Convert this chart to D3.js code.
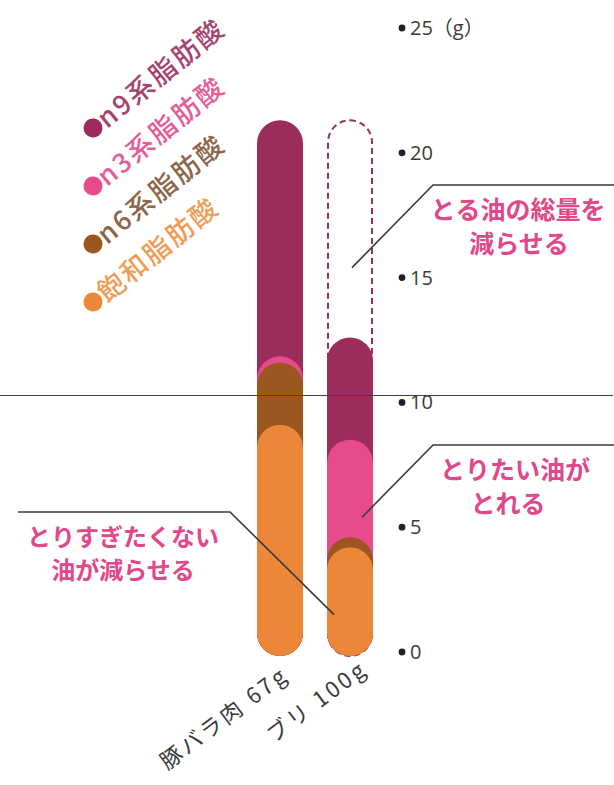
<!DOCTYPE html>
<html><head><meta charset="utf-8">
<script src="https://cdn.jsdelivr.net/npm/d3@7"></script>
<style>
html,body{margin:0;padding:0;background:#fff;}
svg{display:block;font-family:"Noto Sans CJK JP","Noto Sans",sans-serif;}
</style>
</head><body>
<svg id="c" width="614" height="785"></svg>
<script>
// ---- data ----
const categories = ["豚バラ肉 67g", "ブリ 100g"];
const seriesNames = ["飽和脂肪酸", "n6系脂肪酸", "n3系脂肪酸", "n9系脂肪酸"];
const saturated = [9.1, 4.2];
const n6 = [2.5, 0.4];
const n3 = [0.25, 3.9];
const n9 = [9.45, 4.1];
const tickValues = [0, 5, 10, 15, 20, 25];
const tickLabels = ["0", "5", "10", "15", "20", "25（g）"];
const legendOrder = ["n9系脂肪酸", "n3系脂肪酸", "n6系脂肪酸", "飽和脂肪酸"];
const colors = {"飽和脂肪酸":"#ec873a","n6系脂肪酸":"#9c561f","n3系脂肪酸":"#e84b8c","n9系脂肪酸":"#9c2c5b"};
const legendTextColors = {"飽和脂肪酸":"#f09c55","n6系脂肪酸":"#8d6548","n3系脂肪酸":"#e55c98","n9系脂肪酸":"#a2446f"};
const annotations = [
  {lines:["とる油の総量を","減らせる"]},
  {lines:["とりたい油が","とれる"]},
  {lines:["とりすぎたくない","油が減らせる"]}
];

const svg = d3.select("#c");
const y = d3.scaleLinear().domain([0, 25]).range([652, 28]);
const x = d3.scalePoint().domain(categories).range([280, 350]);
const barW = 46, r = barW / 2;

const table = d3.stack().keys(seriesNames)(categories.map((c, i) => ({
  cat: c, "飽和脂肪酸": saturated[i], "n6系脂肪酸": n6[i], "n3系脂肪酸": n3[i], "n9系脂肪酸": n9[i]
})));

// dashed outline on second bar showing first bar total
const porkTotal = table[3][0][1];
svg.append("rect")
  .attr("x", x(categories[1]) - r + 1).attr("width", barW - 2)
  .attr("y", y(porkTotal)).attr("height", y(0) + 4 - y(porkTotal))
  .attr("rx", r - 1)
  .attr("fill", "none").attr("stroke", "#9c2c5b").attr("stroke-width", 2)
  .attr("stroke-dasharray", "6,4");

// stacked capsules, drawn top series first
const layers = table.slice().reverse();
categories.forEach((c, ci) => {
  layers.forEach(layer => {
    const top = layer[ci][1];
    svg.append("rect")
      .attr("x", x(c) - r).attr("width", barW)
      .attr("y", y(top)).attr("height", y(0) + 4 - y(top))
      .attr("rx", r)
      .attr("fill", colors[layer.key]);
  });
});

// axis: dots + labels
const ax = svg.append("g");
tickValues.forEach((v, i) => {
  ax.append("circle").attr("cx", 402).attr("cy", y(v)).attr("r", 3.4).attr("fill", "#222");
  ax.append("text").attr("x", 410).attr("y", y(v)).attr("dy", "0.35em")
    .attr("font-size", 20).attr("fill", "#3a3a3a")
    .attr("font-family", "'Open Sans','Noto Sans CJK JP',sans-serif")
    .text(tickLabels[i]);
});

// x labels
const labelEnd = [[10, 678], [19, 672]];
categories.forEach((c, i) => {
  svg.append("text")
    .attr("transform", `translate(${x(c) + labelEnd[i][0]},${labelEnd[i][1]}) rotate(-37)`)
    .attr("text-anchor", "end").attr("font-size", 22).attr("letter-spacing", 3)
    .attr("fill", "#3a3a3a")
    .text(c);
});

// legend
const legendY = [128, 186, 244, 302];
legendOrder.forEach((k, i) => {
  const g = svg.append("g").attr("transform", `translate(93,${legendY[i]}) rotate(-39)`);
  g.append("circle").attr("r", 9.5).attr("fill", colors[k]);
  g.append("text").attr("x", 10).attr("dy", "0.36em").attr("font-size", 27)
    .attr("font-weight", 500)
    .attr("letter-spacing", 2.5).attr("fill", legendTextColors[k]).text(k);
});

// annotation leader lines
const bx = x(categories[1]);
const lineCol = "#3a3a3a";
const leaders = [
  [[bx + 2, y(15.4)], [433, 185], [614, 185]],
  [[bx + 12, y(5.4)], [433, 445], [614, 445]],
  [[18, 512], [230, 512], [bx - 16, y(1.5)]]
];
leaders.forEach(p => {
  svg.append("path").attr("d", d3.line()(p)).attr("fill", "none")
    .attr("stroke", lineCol).attr("stroke-width", 1.6);
});

// annotation texts
const annoPos = [
  [{x:518, y:219, s:25}, {x:519, y:253, s:25}],
  [{x:515, y:479, s:25}, {x:508, y:513, s:25}],
  [{x:123, y:546, s:24}, {x:123, y:579, s:24}]
];
annotations.forEach((a, i) => {
  a.lines.forEach((t, j) => {
    svg.append("text").attr("x", annoPos[i][j].x).attr("y", annoPos[i][j].y)
      .attr("text-anchor", "middle").attr("font-size", annoPos[i][j].s).attr("font-weight", "bold")
      .attr("fill", "#e0488a").text(t);
  });
});

// thin blue horizontal rule
svg.append("line").attr("x1", 0).attr("x2", 613).attr("y1", 395.5).attr("y2", 395.5)
  .attr("stroke", "#2e2ec8").attr("stroke-width", 1);
</script>
</body></html>
